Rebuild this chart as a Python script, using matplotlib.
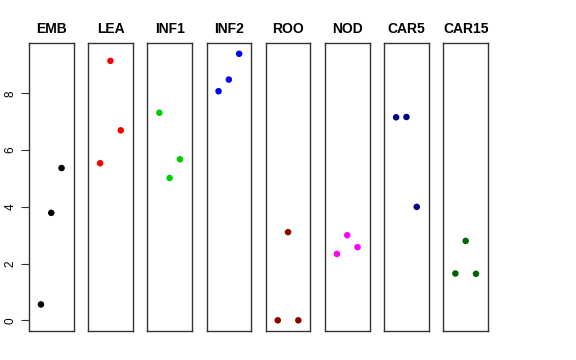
import matplotlib
matplotlib.use("Agg")
import matplotlib.pyplot as plt

plt.rcParams['font.family'] = ['Liberation Sans', 'DejaVu Sans']

# Data: one small series per tissue
groups = ["EMB", "LEA", "INF1", "INF2", "ROO", "NOD", "CAR5", "CAR15"]
emb = [0.56, 3.79, 5.37]
lea = [5.54, 9.15, 6.70]
inf1 = [7.32, 5.02, 5.68]
inf2 = [8.08, 8.49, 9.40]
roo = [0.0, 3.11, 0.0]
nod = [2.34, 3.00, 2.58]
car5 = [7.16, 7.17, 4.00]
car15 = [1.65, 2.80, 1.64]
series = [emb, lea, inf1, inf2, roo, nod, car5, car15]
colors = ["black", "red", "#00CD00", "blue", "#8B0000", "magenta", "#00008B", "#006400"]
reps = [1, 2, 3]
yticks = [0, 2, 4, 6, 8]

W, H = 576, 360
fig = plt.figure(figsize=(W / 100, H / 100), dpi=100)

left0, step, pw = 29, 59.2, 44.5
top, bottom = 43, 331
ymin, ymax = -0.377, 9.78

for i, (name, vals, col) in enumerate(zip(groups, series, colors)):
    x0 = left0 + i * step
    ax = fig.add_axes([x0 / W, (H - bottom) / H, pw / W, (bottom - top) / H])
    ax.scatter(reps, vals, s=22, color=col, edgecolors='none', zorder=3)
    ax.set_xlim(-0.16, 4.16)
    ax.set_ylim(ymin, ymax)
    ax.set_xticks([])
    ax.set_title(name, fontsize=10, fontweight='bold', pad=7)
    for sp in ax.spines.values():
        sp.set_linewidth(1.0)
        sp.set_color('#333333')
    if i == 0:
        ax.set_yticks(yticks)
        ax.tick_params(axis='y', length=6, width=0.8, labelsize=8.5, pad=3,
                       color='#333333')
        for lab in ax.get_yticklabels():
            lab.set_rotation(90)
            lab.set_va('center')
    else:
        ax.set_yticks([])

fig.savefig("out.png", dpi=100)
